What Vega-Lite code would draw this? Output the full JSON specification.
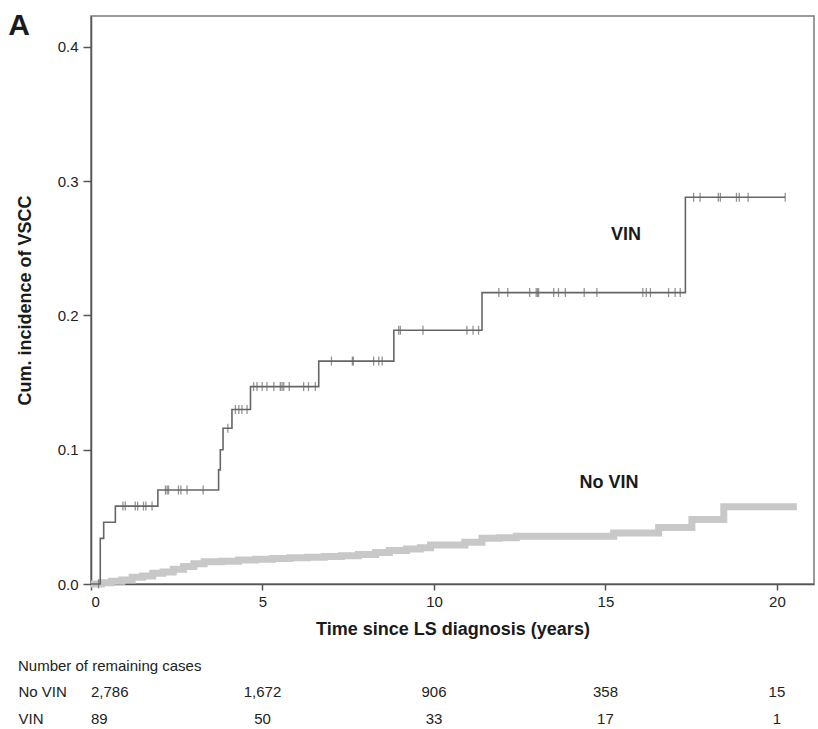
{
  "$schema": "https://vega.github.io/schema/vega-lite/v6.json",
  "background": "white",
  "padding": {"left": 7, "top": 10, "right": 1, "bottom": 0},
  "config": {
    "font": "Liberation Sans",
    "view": {"stroke": null},
    "concat": {"spacing": 20}
  },
  "datasets": {
    "curves": [
      {"group": "No VIN", "t": 0, "v": 0},
      {"group": "No VIN", "t": 0.3, "v": 0.001},
      {"group": "No VIN", "t": 0.6, "v": 0.002},
      {"group": "No VIN", "t": 0.9, "v": 0.003},
      {"group": "No VIN", "t": 1.2, "v": 0.005},
      {"group": "No VIN", "t": 1.5, "v": 0.006},
      {"group": "No VIN", "t": 1.8, "v": 0.008},
      {"group": "No VIN", "t": 2.1, "v": 0.009},
      {"group": "No VIN", "t": 2.4, "v": 0.011},
      {"group": "No VIN", "t": 2.7, "v": 0.013},
      {"group": "No VIN", "t": 3.0, "v": 0.015},
      {"group": "No VIN", "t": 3.3, "v": 0.0165},
      {"group": "No VIN", "t": 3.8, "v": 0.017},
      {"group": "No VIN", "t": 4.3, "v": 0.0178},
      {"group": "No VIN", "t": 4.8, "v": 0.0185},
      {"group": "No VIN", "t": 5.3, "v": 0.019},
      {"group": "No VIN", "t": 5.8, "v": 0.0195},
      {"group": "No VIN", "t": 6.3, "v": 0.02},
      {"group": "No VIN", "t": 6.8, "v": 0.0205},
      {"group": "No VIN", "t": 7.3, "v": 0.021},
      {"group": "No VIN", "t": 7.8, "v": 0.022},
      {"group": "No VIN", "t": 8.3, "v": 0.0235},
      {"group": "No VIN", "t": 8.7, "v": 0.025},
      {"group": "No VIN", "t": 9.2, "v": 0.026},
      {"group": "No VIN", "t": 9.6, "v": 0.027},
      {"group": "No VIN", "t": 9.9, "v": 0.029},
      {"group": "No VIN", "t": 10.9, "v": 0.031},
      {"group": "No VIN", "t": 11.4, "v": 0.034},
      {"group": "No VIN", "t": 11.9, "v": 0.0345},
      {"group": "No VIN", "t": 12.4, "v": 0.0355},
      {"group": "No VIN", "t": 15.24, "v": 0.038},
      {"group": "No VIN", "t": 16.55, "v": 0.042},
      {"group": "No VIN", "t": 17.52, "v": 0.048},
      {"group": "No VIN", "t": 18.45, "v": 0.0576},
      {"group": "No VIN", "t": 20.58, "v": 0.0576},
      {"group": "VIN", "t": 0, "v": 0},
      {"group": "VIN", "t": 0.27, "v": 0.034},
      {"group": "VIN", "t": 0.37, "v": 0.046},
      {"group": "VIN", "t": 0.71, "v": 0.058},
      {"group": "VIN", "t": 1.95, "v": 0.07},
      {"group": "VIN", "t": 3.72, "v": 0.085},
      {"group": "VIN", "t": 3.77, "v": 0.1},
      {"group": "VIN", "t": 3.85, "v": 0.116},
      {"group": "VIN", "t": 4.11, "v": 0.13},
      {"group": "VIN", "t": 4.65, "v": 0.147},
      {"group": "VIN", "t": 6.64, "v": 0.166},
      {"group": "VIN", "t": 8.83, "v": 0.189},
      {"group": "VIN", "t": 11.4, "v": 0.217},
      {"group": "VIN", "t": 17.33, "v": 0.288},
      {"group": "VIN", "t": 20.24, "v": 0.288}
    ],
    "censor": [
      {"t": 0.22, "v": 0},
      {"t": 0.93, "v": 0.058}, {"t": 1.0, "v": 0.058}, {"t": 1.29, "v": 0.058}, {"t": 1.36, "v": 0.058}, {"t": 1.53, "v": 0.058}, {"t": 1.6, "v": 0.058}, {"t": 1.78, "v": 0.058},
      {"t": 2.17, "v": 0.07}, {"t": 2.22, "v": 0.07}, {"t": 2.26, "v": 0.07}, {"t": 2.55, "v": 0.07}, {"t": 2.62, "v": 0.07}, {"t": 2.8, "v": 0.07}, {"t": 3.27, "v": 0.07},
      {"t": 3.99, "v": 0.116},
      {"t": 4.21, "v": 0.13}, {"t": 4.31, "v": 0.13}, {"t": 4.4, "v": 0.13}, {"t": 4.55, "v": 0.13},
      {"t": 4.74, "v": 0.147}, {"t": 4.84, "v": 0.147}, {"t": 4.99, "v": 0.147}, {"t": 5.13, "v": 0.147}, {"t": 5.33, "v": 0.147}, {"t": 5.52, "v": 0.147}, {"t": 5.57, "v": 0.147}, {"t": 5.62, "v": 0.147}, {"t": 5.78, "v": 0.147}, {"t": 6.2, "v": 0.147}, {"t": 6.34, "v": 0.147}, {"t": 6.54, "v": 0.147},
      {"t": 7.01, "v": 0.166}, {"t": 7.62, "v": 0.166}, {"t": 7.65, "v": 0.166}, {"t": 8.24, "v": 0.166}, {"t": 8.39, "v": 0.166}, {"t": 8.49, "v": 0.166},
      {"t": 8.97, "v": 0.189}, {"t": 9.02, "v": 0.189}, {"t": 9.68, "v": 0.189}, {"t": 10.96, "v": 0.189}, {"t": 11.14, "v": 0.189}, {"t": 11.3, "v": 0.189},
      {"t": 11.89, "v": 0.217}, {"t": 12.15, "v": 0.217}, {"t": 12.79, "v": 0.217}, {"t": 12.98, "v": 0.217}, {"t": 13.02, "v": 0.217}, {"t": 13.05, "v": 0.217}, {"t": 13.49, "v": 0.217}, {"t": 13.63, "v": 0.217}, {"t": 13.83, "v": 0.217}, {"t": 14.38, "v": 0.217}, {"t": 14.75, "v": 0.217}, {"t": 16.09, "v": 0.217}, {"t": 16.19, "v": 0.217}, {"t": 16.31, "v": 0.217}, {"t": 16.84, "v": 0.217}, {"t": 17.03, "v": 0.217}, {"t": 17.18, "v": 0.217},
      {"t": 17.57, "v": 0.288}, {"t": 17.76, "v": 0.288}, {"t": 18.29, "v": 0.288}, {"t": 18.35, "v": 0.288}, {"t": 18.82, "v": 0.288}, {"t": 18.9, "v": 0.288}, {"t": 19.16, "v": 0.288}, {"t": 20.24, "v": 0.288}
    ],
    "labels": [
      {"label": "VIN", "t": 15.6, "v": 0.26},
      {"label": "No VIN", "t": 15.1, "v": 0.075}
    ],
    "risk": [
      {"group": "No VIN", "t": 0, "n": 2786},
      {"group": "No VIN", "t": 5, "n": 1672},
      {"group": "No VIN", "t": 10, "n": 906},
      {"group": "No VIN", "t": 15, "n": 358},
      {"group": "No VIN", "t": 20, "n": 15},
      {"group": "VIN", "t": 0, "n": 89},
      {"group": "VIN", "t": 5, "n": 50},
      {"group": "VIN", "t": 10, "n": 33},
      {"group": "VIN", "t": 15, "n": 17},
      {"group": "VIN", "t": 20, "n": 1}
    ]
  },
  "vconcat": [
    {
      "width": 723,
      "height": 568,
      "title": {"text": "A", "anchor": "start", "frame": "bounds", "fontSize": 30, "fontWeight": "bold", "color": "#1a1a1a", "offset": -25, "dx": -8},
      "view": {"stroke": "#7a7a7a", "strokeWidth": 1.5},
      "encoding": {
        "x": {"field": "t", "type": "quantitative",
          "scale": {"domain": [0, 21.08], "nice": false, "zero": false},
          "axis": {"title": "Time since LS diagnosis (years)", "values": [0, 5, 10, 15, 20], "grid": false,
            "labelFontSize": 15, "labelColor": "#222", "labelPadding": 4, "tickSize": 6, "tickColor": "#555", "tickWidth": 1.5,
            "domainColor": "#555", "domainWidth": 1.5, "titleFontSize": 18, "titleFontWeight": "bold", "titleColor": "#1a1a1a", "titlePadding": 11}},
        "y": {"field": "v", "type": "quantitative",
          "scale": {"domain": [0, 0.423], "nice": false, "zero": true},
          "axis": {"title": "Cum. incidence of VSCC", "values": [0, 0.1, 0.2, 0.3, 0.4], "format": ".1f", "grid": false,
            "labelFontSize": 15, "labelColor": "#222", "labelPadding": 5, "tickSize": 8, "tickColor": "#555", "tickWidth": 1.5,
            "domainColor": "#555", "domainWidth": 1.5, "titleFontSize": 18, "titleFontWeight": "bold", "titleColor": "#1a1a1a", "titlePadding": 23}}
      },
      "layer": [
        {
          "data": {"name": "curves"},
          "transform": [{"filter": "datum.group === 'No VIN'"}],
          "mark": {"type": "line", "interpolate": "step-after", "color": "#c8c8c8", "strokeWidth": 7}
        },
        {
          "data": {"name": "curves"},
          "transform": [{"filter": "datum.group === 'VIN'"}],
          "mark": {"type": "line", "interpolate": "step-after", "color": "#666666", "strokeWidth": 1.6}
        },
        {
          "data": {"name": "censor"},
          "mark": {"type": "tick", "orient": "vertical", "color": "#666666", "size": 9, "thickness": 1.3}
        },
        {
          "data": {"name": "labels"},
          "mark": {"type": "text", "fontSize": 18, "fontWeight": "bold", "color": "#1a1a1a"},
          "encoding": {"text": {"field": "label"}}
        }
      ]
    },
    {
      "width": 723,
      "height": 54,
      "title": {"text": "Number of remaining cases", "anchor": "start", "frame": "bounds", "fontSize": 15, "fontWeight": "normal", "color": "#222", "offset": 4},
      "data": {"name": "risk"},
      "mark": {"type": "text", "fontSize": 15, "color": "#222", "align": {"expr": "datum.t == 0 ? 'left' : 'center'"}},
      "encoding": {
        "x": {"field": "t", "type": "quantitative", "scale": {"domain": [0, 21.08], "nice": false, "zero": false}, "axis": null},
        "y": {"field": "group", "type": "nominal", "sort": ["No VIN", "VIN"],
          "axis": {"title": null, "domain": false, "ticks": false, "tickSize": 0, "labelAlign": "left", "labelPadding": 73, "labelFontSize": 15, "labelColor": "#222"}},
        "text": {"field": "n", "type": "quantitative", "format": ","}
      }
    }
  ],
  "resolve": {"scale": {"x": "independent", "y": "independent"}}
}
